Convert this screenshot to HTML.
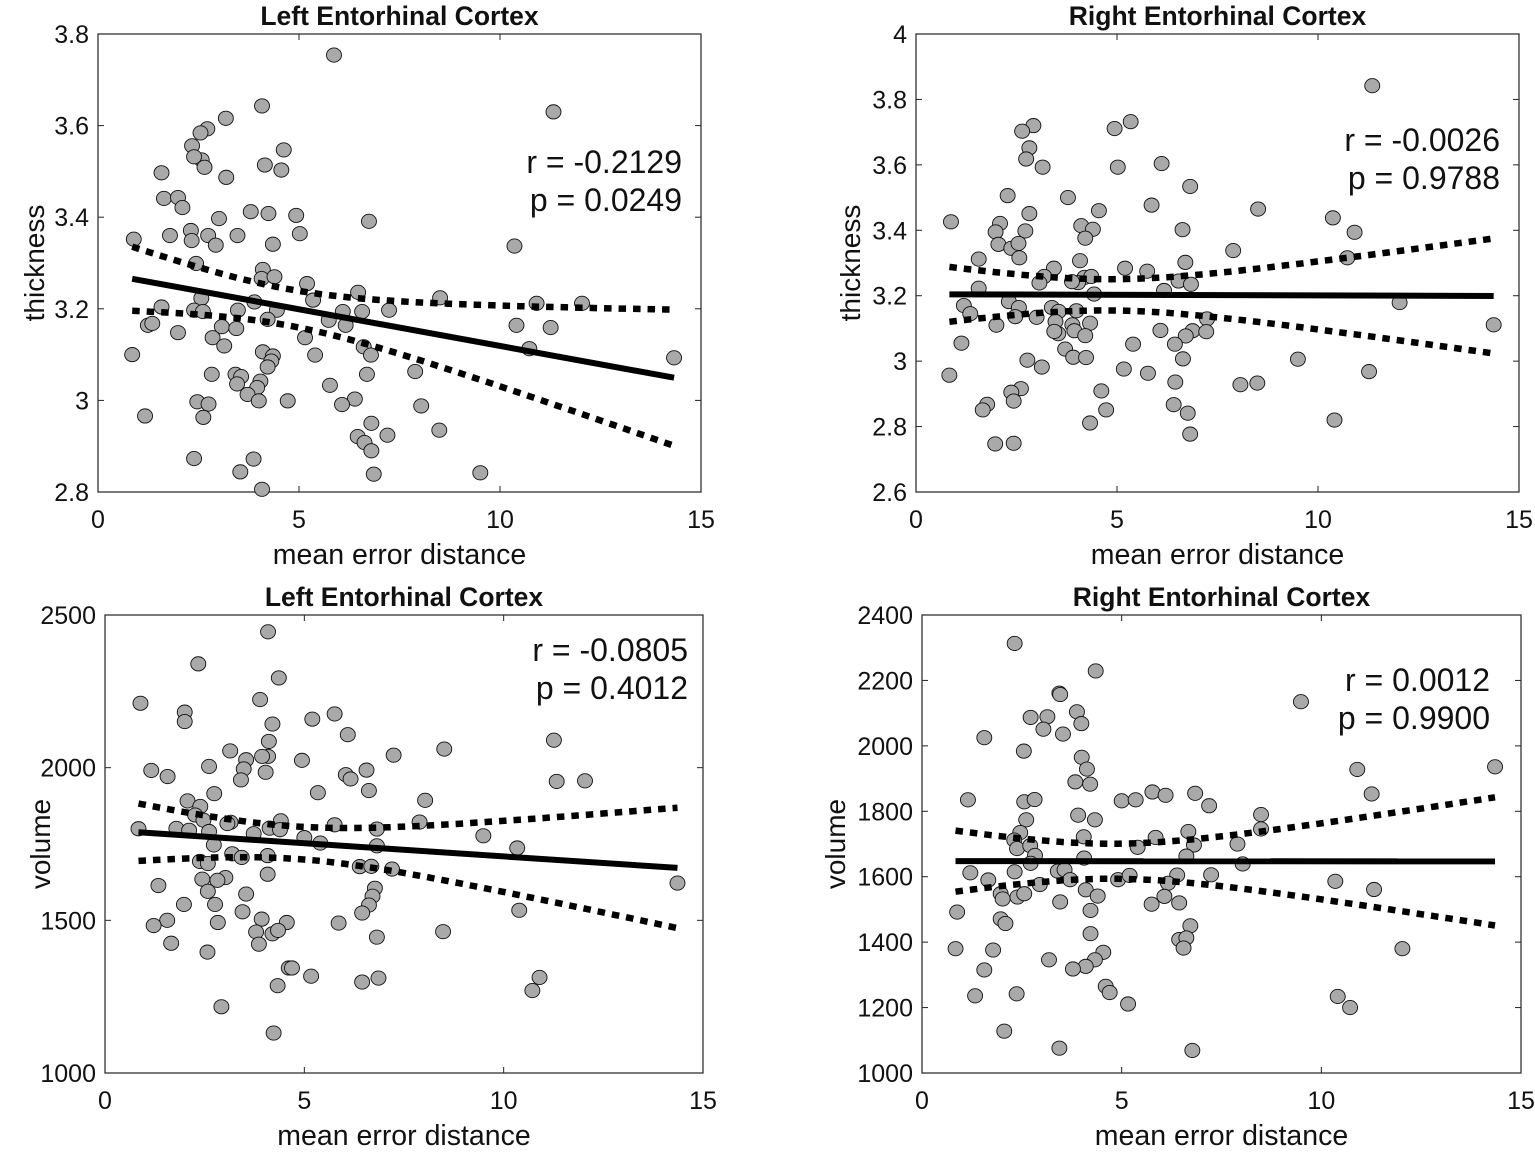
<!DOCTYPE html>
<html><head><meta charset="utf-8">
<style>
html,body{margin:0;padding:0;background:#fff;}
svg{display:block;font-family:"Liberation Sans",Arial,sans-serif;}
</style></head>
<body>
<svg id="fig" width="1535" height="1152" viewBox="0 0 1535 1152" xmlns="http://www.w3.org/2000/svg"></svg>
<script>
// ---------- data ----------
const xTickValues = [0, 5, 10, 15];
const xTickLabels = ["0", "5", "10", "15"];

const tlX = [5.87,11.33,4.08,3.18,2.72,2.55,2.34,2.58,2.65,2.39,4.62,4.15,4.56,3.19,1.58,1.64,1.99,2.10,3.80,4.24,4.93,6.74,3.01,2.31,1.79,2.33,2.74,2.93,3.47,5.02,4.35,10.36,0.89,2.44,4.1,4.07,4.39,5.2,6.47,8.51,10.91,12.04,2.57,3.89,5.35,6.09,6.57,7.24,3.48,4.45,2.39,1.58,2.61,1.24,1.35,3.08,3.44,4.22,5.74,6.16,10.41,11.26,1.99,2.85,5.15,3.14,6.61,10.73,0.85,4.1,4.35,5.4,6.79,4.31,4.22,14.33,2.83,3.42,3.56,3.46,4.04,3.96,3.72,6.69,7.89,5.77,6.39,6.07,4.72,4.0,2.47,2.75,8.04,1.17,2.62,6.8,8.49,7.2,6.46,6.63,6.8,2.39,3.87,3.54,6.86,9.51,4.08];
const tlY = [3.754,3.63,3.643,3.616,3.593,3.584,3.556,3.525,3.509,3.532,3.547,3.514,3.503,3.487,3.497,3.441,3.443,3.421,3.412,3.408,3.404,3.391,3.397,3.371,3.360,3.349,3.360,3.339,3.360,3.364,3.341,3.337,3.352,3.299,3.286,3.266,3.270,3.255,3.236,3.224,3.212,3.212,3.223,3.215,3.219,3.194,3.194,3.197,3.197,3.197,3.197,3.204,3.194,3.164,3.168,3.161,3.157,3.177,3.175,3.164,3.164,3.159,3.148,3.137,3.137,3.119,3.117,3.113,3.100,3.106,3.097,3.099,3.099,3.086,3.073,3.093,3.057,3.057,3.052,3.036,3.042,3.028,3.013,3.057,3.063,3.033,3.003,2.991,2.999,2.999,2.997,2.992,2.988,2.966,2.963,2.95,2.935,2.924,2.921,2.908,2.89,2.873,2.872,2.844,2.839,2.842,2.806];

const trX = [11.35,5.34,4.94,2.92,2.64,2.82,2.74,3.15,5.02,6.11,6.82,2.28,3.78,5.86,4.55,8.51,2.82,10.37,0.87,2.09,1.98,2.72,4.11,4.40,4.21,6.63,10.91,2.05,2.37,2.55,2.57,7.89,10.73,1.56,4.08,6.7,3.43,5.2,5.75,3.19,3.07,4.19,4.03,4.36,3.88,6.53,6.84,6.17,4.43,1.56,2.31,1.19,1.35,2.56,2.47,3.00,3.38,3.55,3.99,3.47,4.33,3.89,3.94,3.54,3.44,4.21,7.24,12.03,14.37,2.0,6.08,6.88,6.71,7.22,1.13,5.4,6.44,3.71,3.91,4.23,2.77,3.13,6.64,9.50,5.17,5.77,0.83,11.27,6.45,8.07,8.49,2.61,2.37,2.43,4.61,1.77,1.66,6.41,4.73,6.76,10.41,4.33,6.82,1.97,2.43];
const trY = [3.842,3.732,3.711,3.72,3.703,3.652,3.618,3.593,3.593,3.604,3.534,3.506,3.500,3.477,3.460,3.465,3.451,3.438,3.426,3.421,3.395,3.398,3.414,3.403,3.376,3.402,3.394,3.357,3.345,3.360,3.316,3.338,3.316,3.312,3.307,3.302,3.284,3.284,3.275,3.259,3.239,3.256,3.240,3.259,3.243,3.245,3.235,3.216,3.205,3.223,3.182,3.170,3.145,3.164,3.136,3.134,3.164,3.152,3.154,3.121,3.116,3.111,3.093,3.084,3.091,3.078,3.129,3.179,3.111,3.110,3.094,3.093,3.077,3.090,3.055,3.052,3.052,3.037,3.012,3.011,3.003,2.982,3.007,3.006,2.976,2.963,2.957,2.968,2.936,2.928,2.933,2.916,2.905,2.878,2.909,2.868,2.851,2.867,2.851,2.841,2.820,2.811,2.777,2.747,2.749];

const blX = [4.09,2.34,4.36,0.89,3.89,2.0,2.0,5.2,5.76,4.2,6.09,4.11,4.09,3.94,3.54,3.14,7.24,8.51,11.26,4.94,2.61,3.48,1.16,1.57,4.03,3.41,6.04,6.16,6.56,11.33,12.04,2.74,5.34,6.62,2.07,2.39,8.03,2.26,2.47,3.15,3.07,4.41,4.13,5.76,7.89,0.84,1.79,2.11,2.61,3.73,4.39,6.82,9.49,5.0,5.4,2.73,6.82,10.34,3.19,3.43,4.08,2.38,2.58,6.39,6.68,7.2,4.08,3.02,2.44,2.82,14.36,1.34,6.77,2.58,3.54,6.71,1.98,2.76,6.62,3.45,6.45,10.39,1.56,1.22,2.83,3.93,4.56,5.86,3.79,4.2,4.34,8.48,6.82,1.66,3.86,2.57,4.61,4.69,5.17,6.86,6.45,10.9,10.72,4.33,2.92,4.23];
const blY = [2445,2340,2294,2211,2223,2182,2151,2159,2176,2143,2108,2086,2037,2037,2026,2055,2041,2061,2090,2024,2004,1996,1991,1971,1985,1960,1977,1963,1992,1955,1957,1915,1918,1925,1891,1873,1893,1845,1828,1821,1817,1826,1802,1813,1822,1800,1801,1795,1791,1784,1797,1799,1777,1771,1753,1747,1744,1737,1718,1706,1712,1693,1686,1676,1677,1668,1651,1640,1635,1631,1622,1614,1605,1595,1586,1579,1552,1552,1550,1528,1524,1533,1500,1483,1493,1504,1493,1491,1462,1456,1467,1463,1445,1425,1422,1396,1344,1344,1317,1311,1298,1313,1270,1286,1217,1131];

const brX = [2.32,4.35,9.49,3.44,3.46,2.72,3.14,3.88,3.99,3.04,3.53,1.56,2.55,4.0,4.13,10.9,14.35,3.84,4.21,11.26,5.77,6.1,5.0,5.35,6.84,7.19,1.15,2.56,2.82,8.49,3.91,4.33,2.61,8.49,2.46,4.05,6.67,5.85,2.31,2.38,2.71,7.9,5.4,6.81,2.83,4.06,6.62,2.72,8.03,2.32,1.21,3.4,3.57,3.71,4.91,5.2,6.39,7.24,10.35,1.66,2.95,6.16,11.32,1.97,2.02,2.39,2.56,4.1,4.4,6.07,3.46,5.75,6.44,0.88,4.22,1.97,2.09,6.72,4.22,6.44,6.62,6.55,0.84,1.78,12.03,3.18,4.54,4.33,4.1,3.78,1.56,4.6,4.7,1.33,2.37,5.16,10.41,10.72,2.06,3.44,6.77];
const brY = [2313,2229,2135,2161,2157,2087,2089,2104,2068,2051,2036,2025,1984,1965,1929,1928,1936,1890,1883,1853,1859,1849,1832,1835,1855,1817,1835,1829,1836,1790,1788,1774,1774,1746,1735,1722,1738,1720,1712,1686,1695,1700,1690,1697,1665,1657,1663,1641,1639,1615,1612,1617,1621,1591,1591,1604,1605,1606,1586,1590,1576,1580,1561,1548,1532,1538,1548,1560,1541,1540,1523,1516,1520,1492,1497,1471,1457,1450,1426,1408,1413,1382,1380,1376,1380,1346,1369,1346,1326,1318,1315,1265,1246,1236,1242,1211,1234,1200,1128,1076,1069];

const tlYTicks = [2.8, 3.0, 3.2, 3.4, 3.6, 3.8];
const tlYLabels = ["2.8","3","3.2","3.4","3.6","3.8"];
const trYTicks = [2.6, 2.8, 3.0, 3.2, 3.4, 3.6, 3.8, 4.0];
const trYLabels = ["2.6","2.8","3","3.2","3.4","3.6","3.8","4"];
const blYTicks = [1000, 1500, 2000, 2500];
const blYLabels = ["1000","1500","2000","2500"];
const brYTicks = [1000, 1200, 1400, 1600, 1800, 2000, 2200, 2400];
const brYLabels = ["1000","1200","1400","1600","1800","2000","2200","2400"];

const tlStats = ["r = -0.2129", "p = 0.0249"];
const trStats = ["r = -0.0026", "p = 0.9788"];
const blStats = ["r = -0.0805", "p = 0.4012"];
const brStats = ["r = 0.0012", "p = 0.9900"];

// ---------- drawing ----------
const NS = "http://www.w3.org/2000/svg";
const svg = document.getElementById("fig");
function mk(tag, attrs, parent) {
  const e = document.createElementNS(NS, tag);
  for (const k in attrs) e.setAttribute(k, attrs[k]);
  (parent || svg).appendChild(e);
  return e;
}

function panel(cfg) {
  const g = mk("g", {});
  
  
  const sx = v => cfg.L + (v - 0) / 15 * (cfg.R - cfg.L);
  const sy = v => cfg.B - (v - cfg.ymin) / (cfg.ymax - cfg.ymin) * (cfg.B - cfg.T);

  const fr = mk("rect", {x: cfg.L, y: cfg.T, width: cfg.R - cfg.L, height: cfg.B - cfg.T, fill: "#fff", stroke: "#222", "stroke-width": 1.2}, g);
  
  

  xTickValues.forEach((v, i) => {
    const x = sx(v);
    mk("line", {x1: x, x2: x, y1: cfg.B, y2: cfg.B - 6, stroke: "#222", "stroke-width": 1}, g);
    mk("line", {x1: x, x2: x, y1: cfg.T, y2: cfg.T + 6, stroke: "#222", "stroke-width": 1}, g);
    const t = mk("text", {x: x, y: cfg.B + 36, "text-anchor": "middle", "font-size": 25, fill: "#111"}, g);
    t.textContent = xTickLabels[i];
    
    
  });
  cfg.yTicks.forEach((v, i) => {
    const y = sy(v);
    mk("line", {x1: cfg.L, x2: cfg.L + 6, y1: y, y2: y, stroke: "#222", "stroke-width": 1}, g);
    mk("line", {x1: cfg.R, x2: cfg.R - 6, y1: y, y2: y, stroke: "#222", "stroke-width": 1}, g);
    const t = mk("text", {x: cfg.L - 9, y: y + 9, "text-anchor": "end", "font-size": 25, fill: "#111"}, g);
    t.textContent = cfg.yLabels[i];
    
    
  });

  const xs = cfg.xs, ys = cfg.ys;
  for (let i = 0; i < xs.length; i++) {
    const c = mk("ellipse", {cx: sx(xs[i]), cy: sy(ys[i]), rx: 7.5, ry: 7.1, fill: "#a9a9a9", stroke: "#111", "stroke-width": 0.9}, g);
    
    
  }

  const n = xs.length;
  let mx = 0, my = 0;
  for (let i = 0; i < n; i++) { mx += xs[i]; my += ys[i]; }
  mx /= n; my /= n;
  let sxx = 0, sxy = 0;
  for (let i = 0; i < n; i++) { sxx += (xs[i] - mx) ** 2; sxy += (xs[i] - mx) * (ys[i] - my); }
  const b = sxy / sxx, a = my - b * mx;
  let sse = 0;
  for (let i = 0; i < n; i++) sse += (ys[i] - a - b * xs[i]) ** 2;
  const s = Math.sqrt(sse / (n - 2));
  const tval = 1.98;
  const x0 = Math.min(...xs), x1 = Math.max(...xs);
  let up = "", lo = "";
  for (let k = 0; k <= 60; k++) {
    const x = x0 + (x1 - x0) * k / 60;
    const h = tval * s * Math.sqrt(1 / n + (x - mx) ** 2 / sxx);
    const yh = a + b * x;
    up += (k ? "L" : "M") + sx(x).toFixed(1) + "," + sy(yh + h).toFixed(1);
    lo += (k ? "L" : "M") + sx(x).toFixed(1) + "," + sy(yh - h).toFixed(1);
  }
  const u = mk("path", {d: up, fill: "none", stroke: "#000", "stroke-width": 6.5, "stroke-dasharray": "7.5 7"}, g);
  
  
  const l = mk("path", {d: lo, fill: "none", stroke: "#000", "stroke-width": 6.5, "stroke-dasharray": "7.5 7"}, g);
  
  
  const fl = mk("line", {x1: sx(x0), y1: sy(a + b * x0), x2: sx(x1), y2: sy(a + b * x1), stroke: "#000", "stroke-width": 6}, g);
  
  

  cfg.stats.forEach((s2, i) => {
    const t = mk("text", {x: cfg.statX, y: cfg.statY + i * 38, "text-anchor": "end", "font-size": 32, fill: "#111"}, g);
    t.textContent = s2;
    
    
  });

  const cx = (cfg.L + cfg.R) / 2;
  const ti = mk("text", {x: cx, y: cfg.T - 9, "text-anchor": "middle", "font-size": 26.5, "font-weight": "bold", fill: "#111"}, g);
  ti.textContent = cfg.title;
  
  
  const xl = mk("text", {x: cx, y: cfg.B + 72, "text-anchor": "middle", "font-size": 28.5, fill: "#111"}, g);
  xl.textContent = "mean error distance";
  
  
  const ym = (cfg.T + cfg.B) / 2;
  const yl = mk("text", {x: cfg.ylx, y: ym, "text-anchor": "middle", "font-size": 28, fill: "#111", transform: "rotate(-90 " + cfg.ylx + " " + ym + ")"}, g);
  yl.textContent = cfg.ylabel;
  
  
}

panel({name: "panel-left-thickness", L: 98, R: 701, T: 34, B: 492, ymin: 2.8, ymax: 3.8, xs: tlX, ys: tlY,
  yTicks: tlYTicks, yLabels: tlYLabels, stats: tlStats, statX: 682, statY: 173,
  title: "Left Entorhinal Cortex", ylabel: "thickness", ylx: 44});
panel({name: "panel-right-thickness", L: 916, R: 1519, T: 34, B: 492, ymin: 2.6, ymax: 4.0, xs: trX, ys: trY,
  yTicks: trYTicks, yLabels: trYLabels, stats: trStats, statX: 1500, statY: 151,
  title: "Right Entorhinal Cortex", ylabel: "thickness", ylx: 860});
panel({name: "panel-left-volume", L: 105, R: 703, T: 615, B: 1073, ymin: 1000, ymax: 2500, xs: blX, ys: blY,
  yTicks: blYTicks, yLabels: blYLabels, stats: blStats, statX: 688, statY: 661,
  title: "Left Entorhinal Cortex", ylabel: "volume", ylx: 50});
panel({name: "panel-right-volume", L: 922, R: 1521, T: 615, B: 1073, ymin: 1000, ymax: 2400, xs: brX, ys: brY,
  yTicks: brYTicks, yLabels: brYLabels, stats: brStats, statX: 1490, statY: 691,
  title: "Right Entorhinal Cortex", ylabel: "volume", ylx: 845});
</script>
</body></html>
